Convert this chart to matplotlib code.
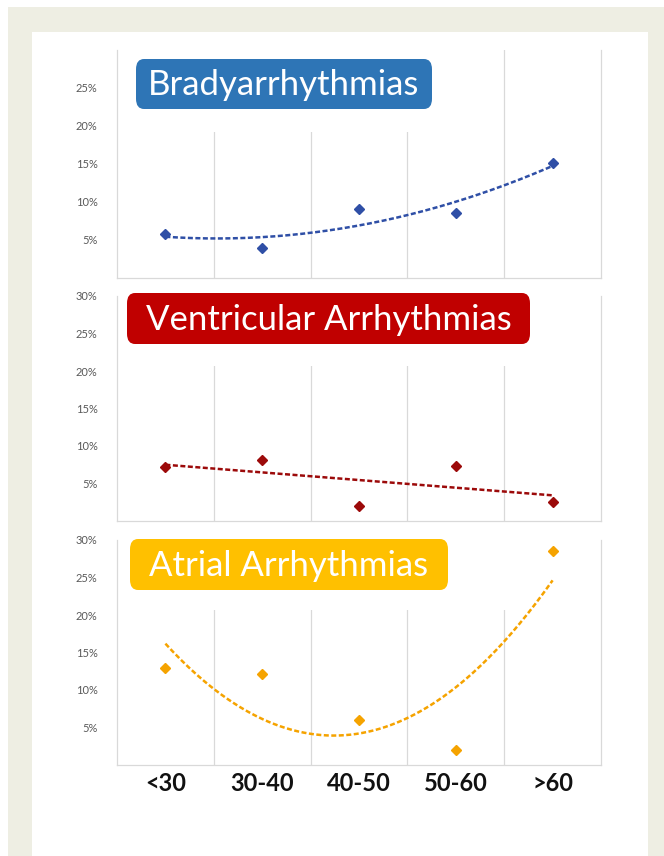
import matplotlib.pyplot as plt
import numpy as np
from matplotlib.patches import FancyBboxPatch, Rectangle

# ---------------------------------------------------------------------------
# Data (percent of patients by age group)
# ---------------------------------------------------------------------------
age_groups = ["<30", "30-40", "40-50", "50-60", ">60"]
brady = [5.8, 3.9, 9.1, 8.6, 15.1]
ventricular = [7.2, 8.2, 2.0, 7.4, 2.5]
atrial = [12.9, 12.1, 6.0, 2.0, 28.5]

W, H = 664, 856


def fx(px):
    return px / W


def fy(py):
    return 1 - py / H


fig = plt.figure(figsize=(W / 100, H / 100), dpi=100, facecolor="white")

# beige frame with white card
fig.patches.append(Rectangle((fx(8), 0), fx(656), fy(7), transform=fig.transFigure,
                             facecolor="#eeeee3", edgecolor="none", zorder=0))
fig.patches.append(Rectangle((fx(32), 0), fx(616), fy(32), transform=fig.transFigure,
                             facecolor="white", edgecolor="none", zorder=0))

panels = [
    # title, values, marker colour, box colour, fit order, y of 0% / 30%,
    # box (x0, x1, y0, y1), cover (x1, y1), yticks
    ("Bradyarrhythmias", brady, "#2f4fa6", "#2e75b6", 2, 278, 50,
     (136, 432, 59, 109), (480, 132), [5, 10, 15, 20, 25]),
    ("Ventricular Arrhythmias", ventricular, "#9c0a0a", "#c00000", 1, 521, 296,
     (127, 530, 293, 344), (560, 366), [5, 10, 15, 20, 25, 30]),
    ("Atrial Arrhythmias", atrial, "#f5a300", "#ffc000", 2, 765, 540,
     (130, 448, 539, 590), (560, 610), [5, 10, 15, 20, 25, 30]),
]

x = np.arange(len(age_groups))

for i, (title, vals, pcol, bcol, order, y0, y30, box, cover, yticks) in enumerate(panels):
    ax = fig.add_axes([fx(117), fy(y0), fx(601 - 117), (y0 - y30) / H])
    ax.set_zorder(2 + i)
    ax.set_facecolor("none")
    ax.set_xlim(-0.5, 4.5)
    ax.set_ylim(0, 30)

    # vertical gridlines between categories
    for xv in np.arange(0.5, 4.5, 1.0):
        ax.axvline(xv, color="#d9d9d9", lw=0.9, zorder=1)
    for side in ["left", "right", "bottom"]:
        ax.spines[side].set_color("#d9d9d9")
        ax.spines[side].set_linewidth(0.9)
    ax.spines["top"].set_visible(False)

    # trendline (polynomial fit like Excel)
    coef = np.polyfit(x, vals, order)
    xs = np.linspace(0, 4, 200)
    ax.plot(xs, np.polyval(coef, xs), ls=(0, (2.0, 1.0)), lw=1.8, color=pcol, zorder=3)
    ax.plot(x, vals, ls="none", marker="D", ms=5.5 if i == 0 else 5, color=pcol,
            mec=pcol, zorder=4)

    ax.set_yticks(yticks)
    ax.set_yticklabels([f"{t}%" for t in yticks], fontsize=8, color="#595959",
                       family="Lato")
    ax.tick_params(axis="both", length=0, pad=14)
    if i == 2:
        ax.set_xticks(x)
        ax.set_xticklabels(age_groups, fontsize=17, fontweight="bold", color="#111111",
                           family="Lato")
        ax.tick_params(axis="x", pad=5)
    else:
        ax.set_xticks([])

    # white cover hiding gridline tops behind the label
    ax.add_patch(Rectangle((fx(119), fy(cover[1])), fx(cover[0] - 119),
                           (cover[1] - y30 + 8) / H, transform=fig.transFigure,
                           facecolor="white", edgecolor="none", zorder=2, clip_on=False))
    bx0, bx1, by0, by1 = box
    ax.add_patch(FancyBboxPatch((fx(bx0), fy(by1)), fx(bx1 - bx0), (by1 - by0) / H,
                                boxstyle="round,pad=0,rounding_size=0.012",
                                transform=fig.transFigure, facecolor=bcol,
                                edgecolor="none", zorder=5, clip_on=False))
    ax.text(fx((bx0 + bx1) / 2), fy((by0 + by1) / 2 + 1), title, ha="center", va="center",
            fontsize=25, color="white", family="Lato", zorder=6,
            transform=fig.transFigure)

fig.savefig("out.png", dpi=100)
